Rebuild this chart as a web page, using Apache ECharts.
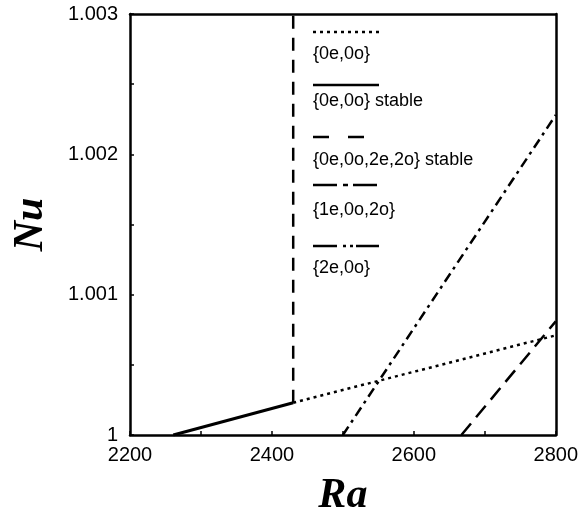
<!DOCTYPE html>
<html><head><meta charset="utf-8">
<script src="https://cdn.jsdelivr.net/npm/echarts@6/dist/echarts.min.js"></script>
<style>html,body{margin:0;padding:0;background:#fff}#c{width:581px;height:522px}</style>
</head><body><div id="c"></div>
<script>
// ---- data ----
const seriesNames = ['{0e,0o}', '{0e,0o} stable', '{0e,0o,2e,2o} stable', '{1e,0o,2o}', '{2e,0o}'];
const raDotted = [2430, 2800];
const nuDotted = [1.00023, 1.00071];
const raSolid = [2261, 2430];
const nuSolid = [1.0, 1.00023];
const raVertical = [2430, 2430];
const nuVertical = [1.00023, 1.003];
const raSteep = [2500, 2800];
const nuSteep = [1.0, 1.00228];
const raLower = [2667, 2800];
const nuLower = [1.0, 1.00081];
const xTickLabels = [2200, 2400, 2600, 2800];
const yTickLabels = [1, 1.001, 1.002, 1.003];

const pairs = (xs, ys) => xs.map((x, i) => [x, ys[i]]);
const near = (v, arr) => arr.some(t => Math.abs(t - v) < 1e-7);

const chart = echarts.init(document.getElementById('c'), null, {renderer: 'canvas'});

function lineSeries(name, xs, ys, width, dash) {
  return {
    name: name, type: 'line', data: pairs(xs, ys),
    showSymbol: false, symbol: 'none', silent: true, animation: false,
    lineStyle: {color: '#000', width: width, type: dash, cap: 'butt'},
    z: 3
  };
}

// legend (drawn as graphic decorations)
const legendDash = [[3, 4], null, [16, 19], [24, 6, 5, 5], [24, 6, 3, 4, 3, 3]];
const legendLineY = [32, 85, 137, 185, 246];
const legendTextY = [54, 101, 160, 210, 268];
const graphics = [];
seriesNames.forEach((n, i) => {
  graphics.push({
    type: 'line', silent: true,
    shape: {x1: 313, y1: legendLineY[i], x2: 379, y2: legendLineY[i]},
    style: {stroke: '#000', lineWidth: 2.5, lineDash: legendDash[i] || null}
  });
  graphics.push({
    type: 'text', silent: true, x: 313, y: legendTextY[i],
    style: {text: n, fill: '#000', font: '18px "Liberation Sans", Arial, sans-serif',
            textVerticalAlign: 'middle', verticalAlign: 'middle'}
  });
});

const axisCommon = {
  axisLine: {show: true, lineStyle: {color: '#000', width: 2.5}},
  splitLine: {show: false},
};

chart.setOption({
  animation: false,
  backgroundColor: '#fff',
  grid: {left: 130, right: 24, top: 14, bottom: 85, containLabel: false},
  xAxis: [{
    type: 'value', min: 2200, max: 2800, interval: 100,
    ...axisCommon,
    axisTick: {show: true, inside: true, length: 4, lineStyle: {color: '#000', width: 1.5}},
    axisLabel: {
      color: '#000', fontSize: 20, fontFamily: '"Liberation Sans", Arial, sans-serif',
      margin: 10, showMinLabel: true, showMaxLabel: true,
      formatter: v => near(v, xTickLabels) ? String(v) : ''
    },
    name: 'Ra', nameLocation: 'middle', nameGap: 40,
    nameTextStyle: {fontFamily: '"Liberation Serif", "Times New Roman", serif', fontStyle: 'italic', fontWeight: 'bold', fontSize: 42, color: '#000'}
  }, {
    type: 'value', position: 'top', min: 2200, max: 2800, interval: 100,
    ...axisCommon, axisTick: {show: false}, axisLabel: {show: false}
  }],
  yAxis: [{
    type: 'value', min: 1, max: 1.003, interval: 0.0005,
    ...axisCommon,
    axisTick: {show: true, inside: true, length: 4, lineStyle: {color: '#000', width: 1.5}},
    axisLabel: {
      color: '#000', fontSize: 20, fontFamily: '"Liberation Sans", Arial, sans-serif',
      margin: 12,
      formatter: v => near(v, yTickLabels) ? (Math.abs(v - 1) < 1e-9 ? '1' : v.toFixed(3)) : ''
    },
    name: 'Nu', nameLocation: 'middle', nameGap: 78, nameRotate: 90,
    nameTextStyle: {fontFamily: '"Liberation Serif", "Times New Roman", serif', fontStyle: 'italic', fontWeight: 'bold', fontSize: 42, color: '#000'}
  }, {
    type: 'value', position: 'right', min: 1, max: 1.003, interval: 0.0005,
    ...axisCommon, axisTick: {show: false}, axisLabel: {show: false}
  }],
  series: [
    lineSeries(seriesNames[0], raDotted, nuDotted, 2.5, [3, 4]),
    lineSeries(seriesNames[1], raSolid, nuSolid, 3, 'solid'),
    lineSeries(seriesNames[2], raVertical, nuVertical, 2.5, [13, 9]),
    lineSeries(seriesNames[3], raSteep, nuSteep, 2.5, [10, 5, 3, 5]),
    lineSeries(seriesNames[4], raLower, nuLower, 2.5, [15, 8])
  ],
  graphic: graphics
});
</script>
</body></html>
